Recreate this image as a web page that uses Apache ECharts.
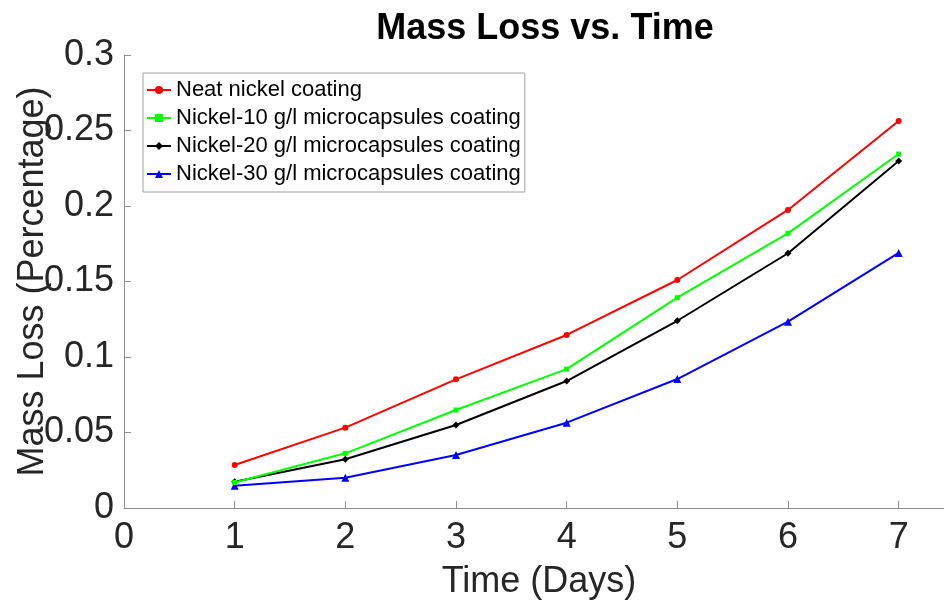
<!DOCTYPE html>
<html>
<head>
<meta charset="utf-8">
<script src="https://cdn.jsdelivr.net/npm/echarts@6/dist/echarts.min.js"></script>
<style>
html,body{margin:0;padding:0;background:#fff;}
#chart{width:944px;height:602px;}
</style>
</head>
<body>
<div id="chart"></div>
<script>
const days = [1, 2, 3, 4, 5, 6, 7];
const seriesNames = [
  'Neat nickel coating',
  'Nickel-10 g/l microcapsules coating',
  'Nickel-20 g/l microcapsules coating',
  'Nickel-30 g/l microcapsules coating'
];
const neat = [0.0285, 0.0532, 0.0852, 0.1146, 0.1510, 0.1974, 0.2563];
const ni10 = [0.0169, 0.0362, 0.0649, 0.0920, 0.1393, 0.1819, 0.2344];
const ni20 = [0.0174, 0.0323, 0.0550, 0.0841, 0.1240, 0.1687, 0.2298];
const ni30 = [0.0148, 0.0201, 0.0351, 0.0565, 0.0854, 0.1234, 0.1689];
const xTicks = [0, 1, 2, 3, 4, 5, 6, 7];
const yTicks = [0, 0.05, 0.1, 0.15, 0.2, 0.25, 0.3];

const FONT = 'Liberation Sans';
const colors = ['#ff0000', '#00ff00', '#000000', '#0000ff'];
const symbols = ['circle', 'rect', 'diamond', 'triangle'];
const symbolSizes = [6, 5, 7, 8];
const allData = [neat, ni10, ni20, ni30];

const chart = echarts.init(document.getElementById('chart'), null, {renderer: 'canvas'});
const axisColor = '#8c8c8c';
const labelColor = '#262626';

chart.setOption({
  backgroundColor: '#ffffff',
  animation: false,
  title: {
    text: 'Mass Loss vs. Time',
    left: 540,
    top: 6,
    textAlign: 'center',
    textStyle: {fontFamily: FONT, fontSize: 36, fontWeight: 'bold', color: '#000'}
  },
  legend: {
    orient: 'vertical',
    left: 143,
    top: 73,
    padding: [3, 4, 4, 3],
    itemGap: 0,
    itemWidth: 24,
    itemHeight: 10,
    itemTextGap: 2,
    borderColor: '#a0a0a0',
    borderWidth: 1,
    backgroundColor: '#fff',
    data: seriesNames,
    textStyle: {fontFamily: FONT, fontSize: 22, color: '#000', lineHeight: 28}
  },
  grid: {left: 124, right: -10, top: 55, bottom: 94, containLabel: false, outerBoundsMode: 'none'},
  xAxis: {
    type: 'value',
    min: 0,
    max: 7.5,
    interval: 1,
    name: 'Time (Days)',
    nameLocation: 'middle',
    nameGap: 56,
    nameMoveOverlap: false,
    nameTextStyle: {fontFamily: FONT, fontSize: 36, color: labelColor},
    axisLine: {show: true, onZero: false, lineStyle: {color: axisColor, width: 1}},
    axisTick: {show: true, inside: true, length: 7, lineStyle: {color: axisColor}, customValues: xTicks},
    axisLabel: {fontFamily: FONT, fontSize: 36, color: labelColor, margin: 12, customValues: xTicks},
    splitLine: {show: false}
  },
  yAxis: {
    type: 'value',
    min: 0,
    max: 0.3,
    interval: 0.05,
    name: 'Mass Loss (Percentage)',
    nameLocation: 'middle',
    nameGap: 73,
    nameRotate: 90,
    nameMoveOverlap: false,
    nameTextStyle: {fontFamily: FONT, fontSize: 36, color: labelColor},
    axisLine: {show: true, lineStyle: {color: axisColor, width: 1}},
    axisTick: {show: true, inside: true, length: 7, lineStyle: {color: axisColor}, customValues: yTicks},
    axisLabel: {fontFamily: FONT, fontSize: 36, color: labelColor, margin: 10, customValues: yTicks,
      formatter: v => String(Math.round(v * 100) / 100)},
    splitLine: {show: false}
  },
  series: seriesNames.map((n, i) => ({
    name: n,
    type: 'line',
    data: days.map((d, j) => [d, allData[i][j]]),
    symbol: symbols[i],
    symbolSize: symbolSizes[i],
    showAllSymbol: true,
    lineStyle: {color: colors[i], width: 2},
    itemStyle: {color: colors[i]},
    color: colors[i],
    z: 10 - i
  }))
});
</script>
</body>
</html>
